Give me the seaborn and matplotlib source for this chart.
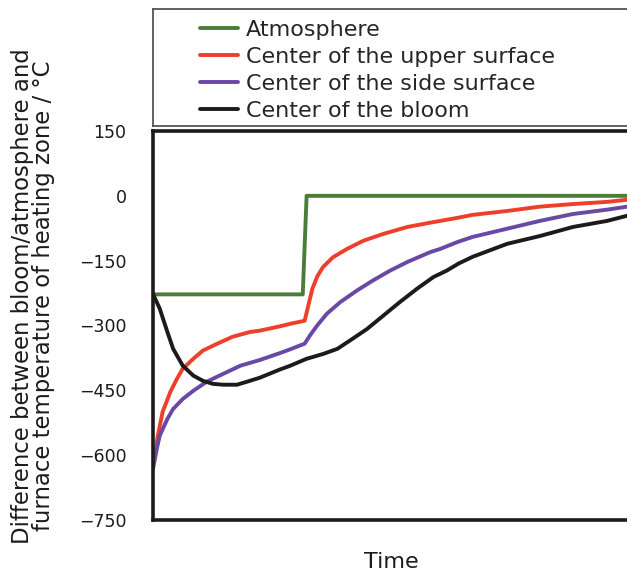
import numpy as np
import pandas as pd
import matplotlib
matplotlib.use('Agg')
import matplotlib.pyplot as plt
import seaborn as sns

sns.set_style('white')
plt.rcParams['font.family'] = ['DejaVu Sans']

# 数据：从图上读取（时间为任意单位，刻度间隔 = 1）
t_atm = [0.0, 1.56, 1.60, 5.0]
v_atm = [-228, -228, 0, 0]

t_upper = [0.0, 0.02, 0.05, 0.10, 0.18, 0.25, 0.31, 0.42, 0.52, 0.67, 0.83, 1.01,
           1.11, 1.32, 1.43, 1.58, 1.61, 1.66, 1.71, 1.77, 1.875, 2.02, 2.19, 2.40,
           2.65, 2.89, 3.17, 3.33, 3.69, 4.03, 4.375, 4.73, 4.94, 5.0]
v_upper = [-618, -600, -555, -500, -454, -423, -400, -377, -358, -342, -326, -315,
           -312, -302, -296, -289, -261, -215, -187, -165, -142, -123, -104, -88,
           -72, -62, -51, -44, -35, -25, -19, -14, -9, -8]

t_side = [0.0, 0.04, 0.07, 0.15, 0.21, 0.31, 0.42, 0.56, 0.73, 0.91, 1.11, 1.32,
          1.43, 1.58, 1.635, 1.71, 1.81, 1.95, 2.125, 2.29, 2.47, 2.65, 2.89, 2.99,
          3.17, 3.33, 3.69, 4.03, 4.375, 4.73, 4.94, 5.0]
v_side = [-632, -585, -555, -516, -493, -470, -451, -430, -412, -393, -380, -364,
          -355, -342, -323, -300, -273, -246, -219, -196, -173, -153, -130, -123,
          -107, -95, -76, -58, -42, -32, -25, -24]

t_bloom = [0.0, 0.07, 0.15, 0.21, 0.31, 0.42, 0.52, 0.625, 0.73, 0.875, 0.98, 1.11,
           1.32, 1.43, 1.60, 1.77, 1.92, 2.05, 2.23, 2.40, 2.57, 2.75, 2.92, 3.06,
           3.18, 3.33, 3.69, 4.03, 4.375, 4.73, 4.94, 5.0]
v_bloom = [-227, -261, -315, -354, -393, -416, -428, -435, -437, -437, -430, -421,
           -402, -393, -377, -366, -354, -335, -308, -277, -246, -215, -188, -173,
           -157, -141, -111, -93, -72, -58, -46, -44]

labels = ['Atmosphere', 'Center of the upper surface',
          'Center of the side surface', 'Center of the bloom']
colors = ['#4a7d38', '#ee3f2b', '#6a48a6', '#1c1a1a']

df = pd.concat([
    pd.DataFrame({'t': t_atm, 'v': v_atm, 's': labels[0]}),
    pd.DataFrame({'t': t_upper, 'v': v_upper, 's': labels[1]}),
    pd.DataFrame({'t': t_side, 'v': v_side, 's': labels[2]}),
    pd.DataFrame({'t': t_bloom, 'v': v_bloom, 's': labels[3]}),
])

W, H = 627, 573
fig = plt.figure(figsize=(W / 100, H / 100), dpi=100)
ax = fig.add_axes([153 / W, (H - 520) / H, (633 - 153) / W, (520 - 131) / H])

sns.lineplot(data=df, x='t', y='v', hue='s', palette=dict(zip(labels, colors)),
             hue_order=labels, sort=False, linewidth=2.8, ax=ax, legend=False)

ax.set_xlim(0, 5)
ax.set_ylim(-750, 150)
ax.set_yticks(np.arange(-750, 151, 150))
ax.set_xticks([1, 2, 3, 4])
ax.set_xticklabels([])
ax.set_xlabel('')
ax.set_ylabel('')
ax.tick_params(direction='in', length=5, width=1.8, colors='#1c1a1a',
               labelsize=12.5, labelcolor='#1c1a1a', pad=19)
ax.tick_params(axis='x', length=7)
for sp in ax.spines.values():
    sp.set_linewidth(2.6)
    sp.set_color('#1c1a1a')

fig.text(391 / W, 1 - 562 / H, 'Time', ha='center', va='center', fontsize=16, color='#1c1a1a')
fig.text(33 / W, 1 - 296 / H,
         'Difference between bloom/atmosphere and\nfurnace temperature of heating zone / °C',
         rotation=90, ha='center', va='center', fontsize=16.4, color='#1c1a1a',
         linespacing=0.9)

# 图例框
lax = fig.add_axes([153 / W, (H - 126) / H, 1.0, (126 - 9) / H])
lax.set_xticks([])
lax.set_yticks([])
for sp in lax.spines.values():
    sp.set_linewidth(1.3)
    sp.set_color('#555555')
handles = ax.get_lines()[:4]
fig.legend(handles, labels, loc='upper left', bbox_to_anchor=(200 / W, 1 - 20 / H),
           bbox_transform=fig.transFigure, frameon=False, fontsize=16,
           handlelength=1.7, handletextpad=0.35, labelspacing=0.31,
           borderaxespad=0, borderpad=0)

fig.savefig('out.png', dpi=100)
